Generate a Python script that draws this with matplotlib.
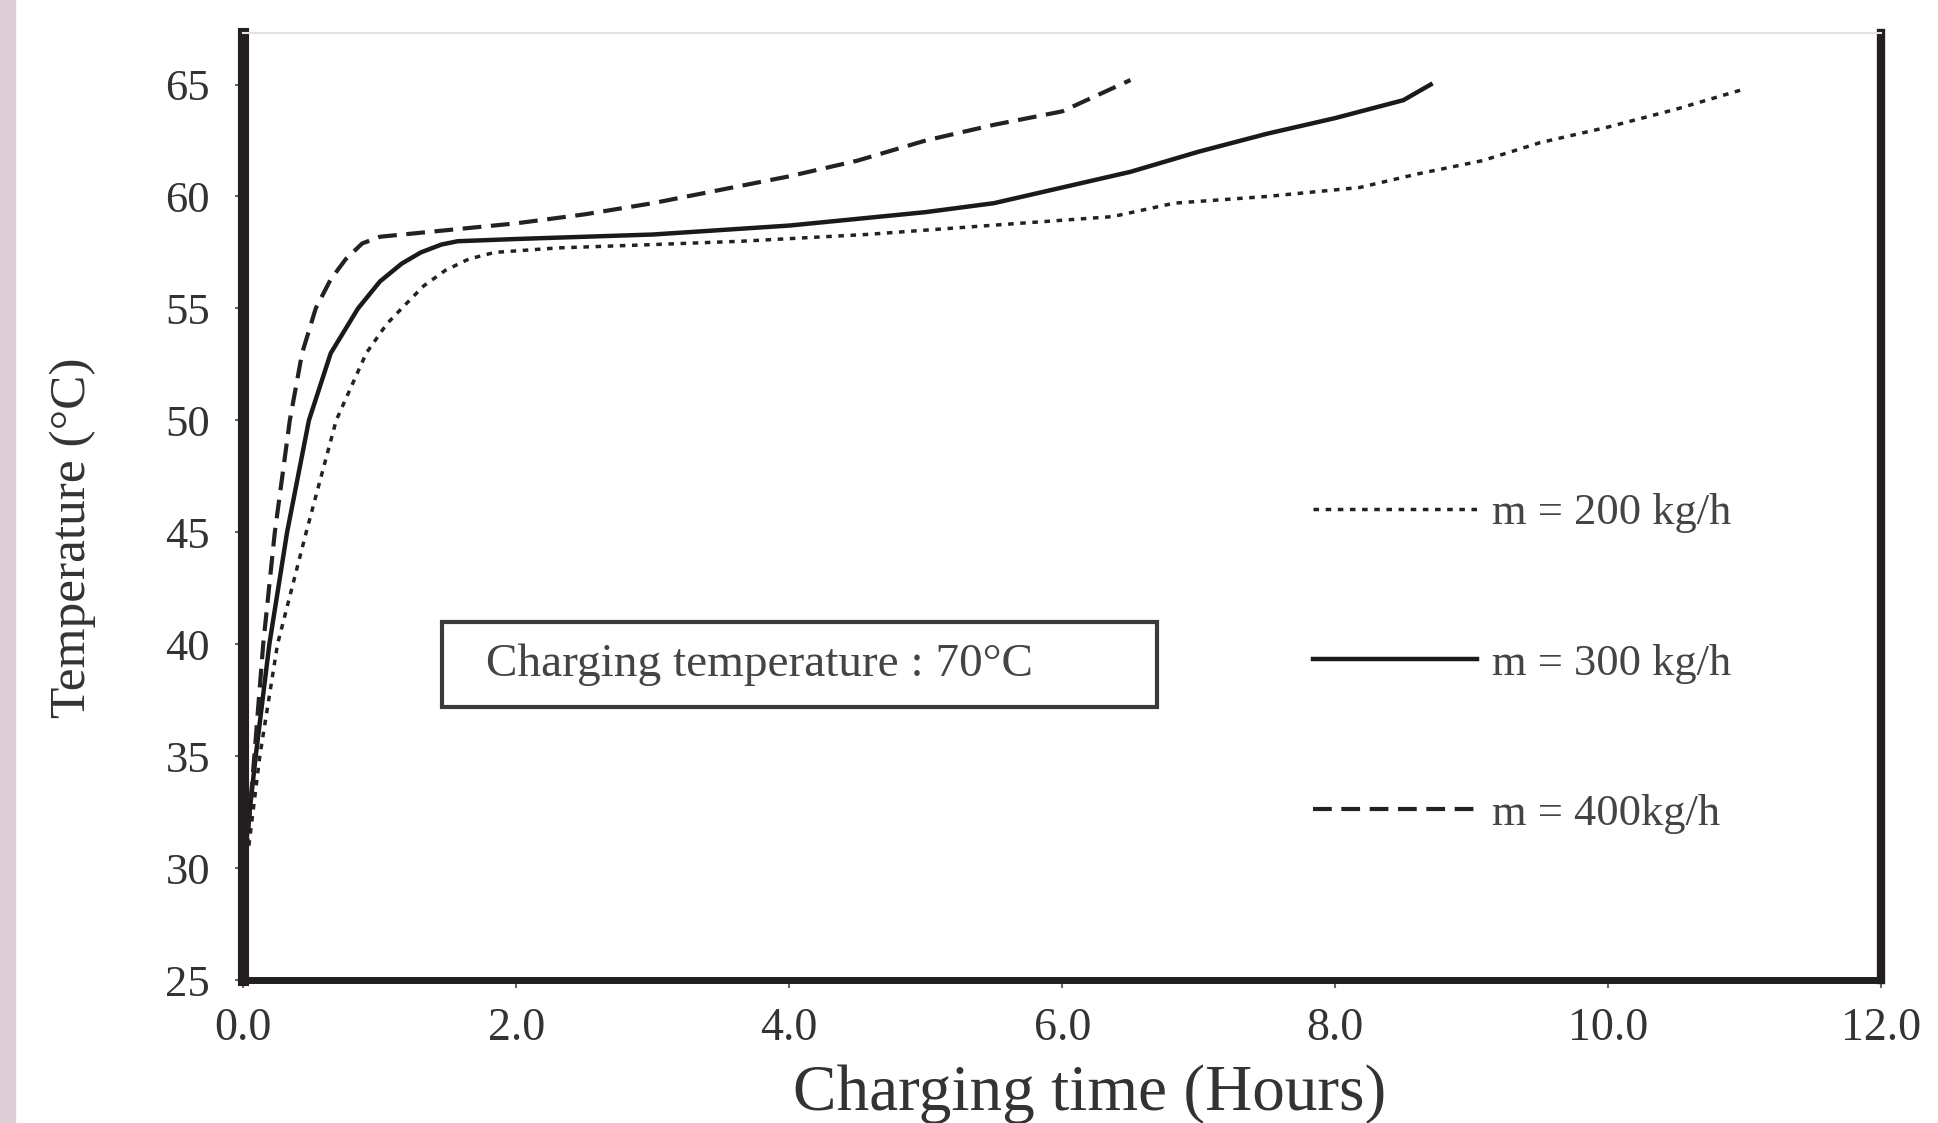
import matplotlib
matplotlib.use("Agg")
import matplotlib.pyplot as plt
from matplotlib.patches import Rectangle

# --- Data ---
t_200 = [0.04, 0.12, 0.25, 0.46, 0.68, 0.9, 1.05, 1.16, 1.32, 1.48, 1.65, 1.84, 2.3, 3.0,
         3.65, 4.56, 5.46, 6.37, 6.82, 7.5, 8.18, 8.6, 9.08, 9.5, 10.0, 10.5, 11.0]
temp_200 = [31.0, 35.0, 40.0, 45.0, 50.0, 53.0, 54.3, 55.0, 56.0, 56.7, 57.2, 57.5, 57.7, 57.85,
            58.0, 58.3, 58.7, 59.1, 59.7, 60.0, 60.4, 61.0, 61.6, 62.4, 63.1, 63.9, 64.8]

t_300 = [0.0, 0.09, 0.19, 0.32, 0.48, 0.64, 0.84, 1.0, 1.16, 1.3, 1.45, 1.57, 2.0, 3.0,
         4.0, 5.0, 5.5, 6.0, 6.5, 7.0, 7.5, 8.0, 8.5, 8.7]
temp_300 = [30.0, 35.0, 40.0, 45.0, 50.0, 53.0, 55.0, 56.2, 57.0, 57.5, 57.85, 58.0, 58.1, 58.3,
            58.7, 59.3, 59.7, 60.4, 61.1, 62.0, 62.8, 63.5, 64.3, 65.0]

t_400 = [0.02, 0.08, 0.145, 0.23, 0.34, 0.43, 0.53, 0.64, 0.75, 0.87, 1.0, 1.5, 2.0, 2.5,
         3.0, 3.5, 4.0, 4.5, 5.0, 5.5, 6.0, 6.5]
temp_400 = [30.5, 35.0, 40.0, 45.0, 50.0, 53.0, 55.0, 56.3, 57.2, 57.9, 58.2, 58.5, 58.8, 59.2,
            59.7, 60.3, 60.9, 61.6, 62.5, 63.2, 63.8, 65.2]

labels = ["m = 200 kg/h", "m = 300 kg/h", "m = 400kg/h"]
x_ticks = [0, 2, 4, 6, 8, 10, 12]
y_ticks = [25, 30, 35, 40, 45, 50, 55, 60, 65]

plt.rcParams['font.family'] = ['Liberation Serif', 'DejaVu Serif']

fig = plt.figure(figsize=(19.38, 11.23), dpi=100)
ax = fig.add_axes([0.1256, 0.1273, 0.845, 0.8433])

# scanned page edge on the left
fig.patches.append(Rectangle((0, 0), 0.0075, 1, transform=fig.transFigure,
                             color='#dccdd6', zorder=0))

ax.plot(t_200, temp_200, color='#222222', lw=2.5, linestyle=(0, (1.6, 1.9)), label=labels[0])
ax.plot(t_300, temp_300, color='#1a1a1a', lw=3.2, linestyle='-', label=labels[1])
ax.plot(t_400, temp_400, color='#222222', lw=3.0, linestyle=(0, (4.5, 2.3)), label=labels[2])

ax.set_xlim(0, 12)
ax.set_ylim(25, 67.3)
ax.set_xticks(x_ticks)
ax.set_xticklabels([f'{v:.1f}' for v in x_ticks])
ax.set_yticks(y_ticks)

ax.tick_params(axis='both', direction='out', length=6, width=1.5, color='#666666',
               labelcolor='#333333')
ax.tick_params(axis='x', labelsize=33, pad=14)
ax.tick_params(axis='y', labelsize=32, pad=18)

for side in ['left', 'right', 'bottom']:
    ax.spines[side].set_color('#231f20')
ax.spines['left'].set_linewidth(8)
ax.spines['right'].set_linewidth(6)
ax.spines['bottom'].set_linewidth(5)
ax.spines['top'].set_color('#eadde4')
ax.spines['top'].set_linewidth(1.5)

ax.set_xlabel('Charging time (Hours)', fontsize=47, color='#333333', va='center')
ax.xaxis.set_label_coords(0.517, -0.12)
ax.set_ylabel('Temperature (°C)', fontsize=37, color='#333333', va='center')
ax.yaxis.set_label_coords(-0.104, 0.467)

# note box
ax.add_patch(Rectangle((0.1212, 0.288), 0.4367, 0.09, transform=ax.transAxes,
                       fill=False, edgecolor='#3a3a3a', lw=3))
ax.text(0.148, 0.333, 'Charging temperature : 70°C', transform=ax.transAxes,
        fontsize=34, color='#444444', va='center', ha='left')

leg = ax.legend(loc='upper left', bbox_to_anchor=(0.653, 0.514), frameon=False,
                fontsize=32, handlelength=3.7, handletextpad=0.33, labelspacing=2.48,
                borderpad=0, borderaxespad=0)
for txt in leg.get_texts():
    txt.set_color('#444444')

plt.savefig('out.png', dpi=100)
